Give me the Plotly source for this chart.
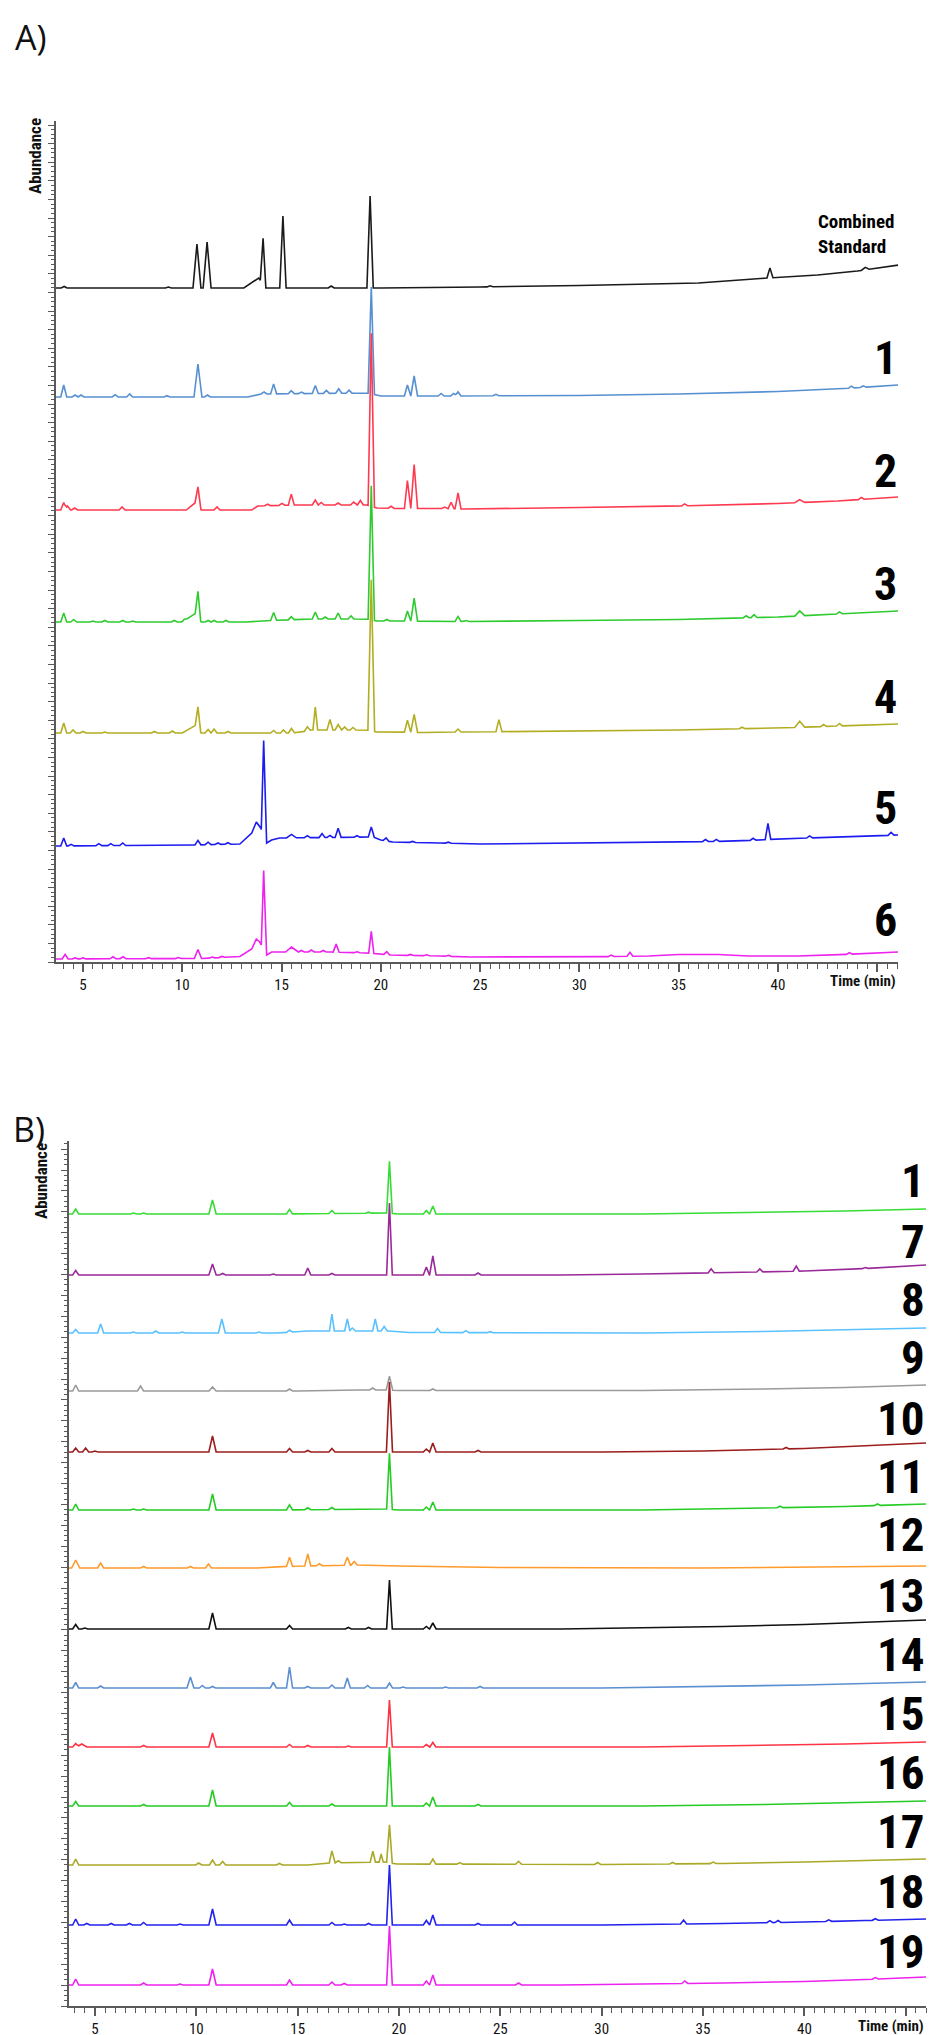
import numpy as np
import plotly.graph_objects as go

# ---------------- DATA (retention time in min, relative abundance) ----------------
W_DEFAULT = 0.15  # default half-width of a peak (min)

# Panel A
A_NAMES = ["Combined<br>Standard", "1", "2", "3", "4", "5", "6"]
A_OFFSETS = [674, 565, 452, 340, 229, 116, 3]

CS_PEAKS = [(4.05, 1.5), (9.3, 1), (10.74, 44, 0.2), (11.25, 46, 0.2), (14.07, 46, 0.14),
            (15.07, 72, 0.16), (17.5, 2), (19.46, 92, 0.16), (25.5, 1), (39.6, 10),
            (44.4, 2.5, 0.2)]
CS_BASE = [(3.6, 0), (13.1, 0), (13.85, 10), (14.2, 0), (20, 0), (25, 1), (30, 2.5), (33, 3.5),
           (36, 5), (39.5, 10), (42, 13), (44, 17), (46.1, 23)]

A1_PEAKS = [(4.03, 12), (4.6, 2), (4.9, 2), (6.62, 2.3), (7.35, 3), (9.23, 1.3), (10.79, 33, 0.2),
            (11.27, 2), (14.12, 2), (14.6, 10), (15.49, 3), (16.0, 1.5), (16.7, 8), (17.26, 3),
            (17.88, 4.5), (18.4, 3), (19.52, 107, 0.16), (21.34, 11), (21.68, 20, 0.17),
            (23.04, 2.5), (23.67, 2.5), (23.89, 4), (25.8, 1.5), (43.7, 2), (44.3, 1.5)]
A1_BASE = [(3.6, 0), (13.3, 0), (13.9, 3), (19.3, 4), (20.0, 1), (23, 1), (30, 1.5), (35, 3),
           (40, 5.5), (43, 8), (46.1, 12)]

A2_PEAKS = [(4.03, 7.5), (4.22, 4), (4.58, 2), (6.97, 3), (10.79, 18, 0.15), (11.75, 3), (14.3, 1.5),
            (15.02, 2), (15.49, 11), (16.7, 5), (17.0, 2.5), (17.85, 2), (18.63, 3), (18.97, 4.5),
            (19.52, 173, 0.16), (20.52, 2), (21.34, 28), (21.68, 44, 0.17), (23.22, 1.5),
            (23.54, 6.5), (23.89, 16), (35.3, 2), (41.1, 3, 0.25), (44.2, 2)]
A2_BASE = [(3.6, 0), (10.2, 0), (10.7, 8), (10.95, 0), (13.5, 0), (13.8, 4), (15.7, 5), (19.3, 5),
           (19.8, 2), (21, 1.5), (23, 1.5), (24.2, 1), (30, 2.5), (35, 4), (40, 6.5), (43, 9),
           (46.1, 13)]

A3_PEAKS = [(4.03, 9), (4.53, 2.5), (5.5, 1), (6.1, 1.5), (7.0, 1.5), (7.5, 1), (9.6, 1.5),
            (10.1, 1.5), (10.79, 25, 0.14), (11.3, 1.5), (11.6, 1.5), (12.2, 1.5), (14.6, 8),
            (15.49, 3), (16.7, 7), (17.2, 2), (17.85, 6), (18.5, 3), (19.52, 134, 0.16), (20.3, 1.5),
            (21.34, 10), (21.68, 23, 0.17), (23.89, 5), (24.3, 1), (38.4, 2), (38.8, 3),
            (41.1, 5, 0.25), (43.1, 2)]
A3_BASE = [(3.6, 0), (10.0, 0), (10.7, 9), (10.95, 0), (13.2, 0), (13.8, 1), (16.5, 3), (19.3, 3),
           (19.8, 1), (21, 1), (24.2, 0.5), (30, 1.5), (35, 2.5), (40, 5), (43, 8), (46.1, 11)]

A4_PEAKS = [(4.03, 10), (4.5, 3), (5.0, 1.5), (6.1, 1), (8.6, 1.5), (9.5, 2), (10.79, 21, 0.14),
            (11.3, 3.5), (11.6, 4), (12.3, 1.5), (14.6, 2.5), (15.1, 3), (15.5, 4.5), (16.3, 4),
            (16.7, 23, 0.12), (17.44, 10.5), (17.85, 5.5), (18.18, 3), (18.6, 2.5),
            (19.52, 151, 0.17), (21.34, 12), (21.68, 18, 0.17), (23.89, 3), (25.95, 12),
            (38.2, 1.5), (41.1, 6, 0.25), (42.3, 2), (43.1, 2.5)]
A4_BASE = [(3.6, 0), (10.0, 0), (10.7, 8), (10.95, 0), (15.5, 0), (16, 1), (16.5, 3), (19.3, 3),
           (19.8, 1), (21, 1), (22.2, 0.5), (24, 1), (30, 2), (35, 3), (40, 5), (46.1, 9)]

A5_PEAKS = [(4.03, 8), (4.4, 1.5), (5.8, 2), (6.4, 2), (7.0, 2.5), (10.79, 4.5), (11.3, 2.5),
            (11.8, 1.5), (12.3, 1.5), (14.1, 95, 0.12), (15.5, 3.5, 0.25), (16.3, 2), (17.04, 4),
            (17.44, 2), (17.85, 9), (18.8, 1.5), (19.52, 10), (20.27, 3), (21.6, 1), (23.4, 1),
            (36.35, 2), (36.9, 2), (38.75, 2), (39.5, 16, 0.14), (41.6, 2), (45.7, 3)]
A5_BASE = [(3.6, 0), (10.5, 1), (12.9, 2), (13.5, 13), (13.73, 24), (13.95, 18), (14.25, 3),
           (14.5, 6), (14.9, 8), (19.6, 9), (20.0, 6), (20.6, 4), (23, 3), (25, 2), (30, 3),
           (35, 4), (38, 5), (40, 7), (46.1, 11)]

A6_PEAKS = [(4.1, 4.5), (4.6, 1), (5.0, 1), (6.51, 2), (7.02, 2), (8.3, 1), (9.8, 1),
            (10.79, 9, 0.18), (11.5, 1), (12.0, 1), (14.1, 79, 0.12), (15.5, 5, 0.3), (16.0, 1.5),
            (16.5, 2), (17.1, 1.5), (17.75, 8), (18.8, 1), (19.52, 22, 0.13), (20.3, 3), (21.5, 1),
            (22.3, 1), (23.4, 1), (31.6, 1.5), (32.55, 4), (43.6, 1.5)]
A6_BASE = [(3.6, 0), (11.0, 0.5), (12.9, 2.5), (13.5, 10), (13.73, 20), (13.9, 17), (14.25, 4),
           (14.5, 7), (17.5, 7), (19.3, 6), (20.5, 4), (23, 3), (24.5, 2), (30, 2), (33.5, 3),
           (35, 4.5), (37, 4.5), (38.5, 3), (41, 3), (44, 5), (46.1, 7)]

A_PEAKS = [CS_PEAKS, A1_PEAKS, A2_PEAKS, A3_PEAKS, A4_PEAKS, A5_PEAKS, A6_PEAKS]
A_BASES = [CS_BASE, A1_BASE, A2_BASE, A3_BASE, A4_BASE, A5_BASE, A6_BASE]

# Panel B
B_NAMES = ["1", "7", "8", "9", "10", "11", "12", "13", "14", "15", "16", "17", "18", "19"]
B_OFFSETS = [792, 731, 673, 615, 554, 496, 438, 377, 318, 259, 200, 141, 81, 21]

B1_PEAKS = [(4.05, 5), (6.9, 1), (7.4, 1), (10.8, 14, 0.18), (14.6, 4.5), (16.69, 3), (18.5, 1),
            (19.53, 52, 0.14), (21.35, 3.5), (21.67, 8, 0.16)]
B1_BASE = [(3.7, 0), (14, 0), (19.4, 1), (20, 0), (32, 0), (38, 1.5), (42, 3), (46, 5)]
B7_PEAKS = [(4.05, 4.5), (10.8, 11, 0.18), (11.3, 1.5), (13.8, 1), (15.5, 7), (16.69, 1.5),
            (19.53, 72, 0.14), (21.35, 8), (21.67, 19, 0.16), (23.9, 2), (35.4, 4), (37.8, 3),
            (39.6, 5), (43.0, 1)]
B7_BASE = [(3.7, 0), (28, 0), (32, 1), (35, 2), (40, 4), (43, 6.5), (46, 10)]
B8_PEAKS = [(4.05, 3.5), (5.28, 9), (6.9, 1), (8.0, 2), (9.3, 1), (11.26, 14, 0.17), (13.1, 1),
            (14.6, 2), (16.69, 17, 0.12), (17.45, 12, 0.13), (17.7, 3), (18.83, 12, 0.13),
            (19.27, 4.5), (21.9, 4), (23.3, 2), (24.5, 1)]
B8_BASE = [(3.7, 0), (14, 0), (15.5, 2), (19.5, 2), (20.5, 0.5), (32, 0), (38, 1.5), (42, 3),
           (46, 5)]
B9_PEAKS = [(4.05, 6), (7.25, 5), (10.8, 4, 0.18), (14.6, 2), (18.7, 2), (19.53, 14, 0.16),
            (21.67, 1.5)]
B9_BASE = [(3.7, 0), (15, 0), (18, 1), (19.4, 1), (20, 0.5), (32, 0.5), (38, 2), (42, 3.5),
           (46, 6)]
B10_PEAKS = [(4.05, 4), (4.54, 4), (5.0, 1), (10.8, 16, 0.18), (14.6, 3.5), (15.5, 1.5),
             (16.69, 3.5), (19.53, 70, 0.15), (21.35, 3), (21.67, 9, 0.16), (23.9, 1.5), (39.1, 1.5)]
B10_BASE = [(3.7, 0), (30, 0), (35, 1), (40, 3.5), (43, 6), (46, 9)]
B11_PEAKS = [(4.05, 6), (6.9, 1), (7.4, 1), (10.8, 16, 0.18), (14.6, 5), (15.5, 2), (16.69, 2),
             (19.53, 56, 0.14), (21.35, 3), (21.67, 8, 0.16), (38.8, 1.5), (43.6, 1.5)]
B11_BASE = [(3.7, 0), (14, 0), (19.4, 1), (20, 0), (32, 0), (38, 2), (42, 3.5), (46, 6)]
B12_PEAKS = [(4.05, 8, 0.2), (5.28, 5), (7.4, 1.5), (9.71, 1.5), (10.6, 4), (14.6, 9), (15.5, 12),
             (16.07, 2), (17.45, 8), (17.79, 3.5)]
B12_BASE = [(3.7, 0), (13, 0), (14.2, 1.5), (17.9, 3), (20, 2), (25, 0.5), (35, 0), (40, 1),
            (46, 2)]
B13_PEAKS = [(4.05, 4.5), (4.5, 1), (10.8, 16, 0.18), (14.6, 3.5), (17.5, 1.5), (18.5, 1.5),
             (19.53, 49, 0.14), (21.35, 2.5), (21.67, 6, 0.16)]
B13_BASE = [(3.7, 0), (28, 0), (32, 1), (36, 2.5), (40, 4.5), (43, 6.5), (46, 9)]
B14_PEAKS = [(4.05, 5.5), (5.28, 2), (9.71, 11, 0.17), (10.3, 2.5), (10.8, 1.5), (13.8, 5.5),
             (14.6, 21, 0.15), (15.5, 1.5), (16.69, 3), (17.45, 10), (18.45, 2.5), (19.53, 5),
             (20.2, 1), (22.3, 1), (24.0, 1.5)]
B14_BASE = [(3.7, 0), (30, 0), (36, 1.5), (40, 3), (43, 4.5), (46, 6)]
B15_PEAKS = [(4.05, 3.5), (4.35, 3, 0.25), (7.4, 1.5), (10.8, 14, 0.18), (14.6, 2.5), (15.5, 1.5),
             (17.5, 1), (19.53, 47, 0.14), (21.35, 2.5), (21.67, 4.5)]
B15_BASE = [(3.7, 0), (32, 0), (38, 1.5), (42, 3), (46, 5)]
B16_PEAKS = [(4.05, 4.5), (7.4, 1.5), (10.8, 16, 0.18), (14.6, 3.5), (16.69, 2), (19.53, 59, 0.14),
             (21.35, 3), (21.67, 9, 0.16), (23.9, 1.5)]
B16_BASE = [(3.7, 0), (32, 0), (38, 1.5), (42, 3), (46, 5)]
B17_PEAKS = [(4.05, 6), (10.12, 2), (10.8, 5), (11.3, 3.5), (14.1, 1.5), (16.69, 12, 0.13),
             (17.0, 2), (18.71, 11, 0.13), (19.12, 8, 0.1), (19.53, 38, 0.14), (21.67, 5),
             (23.0, 1.5), (25.9, 3), (29.8, 2), (33.5, 1.5), (35.5, 1.5)]
B17_BASE = [(3.7, 0), (15.5, 0), (16.4, 2), (19.3, 3), (19.9, 1), (30, 0.5), (36, 1.5), (40, 3),
            (43, 4.5), (46, 6)]
B18_PEAKS = [(4.05, 6), (4.6, 1.5), (5.8, 1.5), (6.7, 1.5), (7.4, 2.5), (9.2, 1), (10.8, 16, 0.18),
             (14.6, 5), (16.69, 2.5), (17.3, 1), (18.5, 1.5), (19.53, 60, 0.14), (21.35, 4.5),
             (21.67, 10, 0.16), (23.9, 1.5), (25.7, 3), (34.04, 4), (38.3, 2), (38.7, 2),
             (41.2, 1.5), (43.5, 1.5)]
B18_BASE = [(3.7, 0), (30, 0), (36, 1.5), (40, 3), (43, 4.5), (46, 6)]
B19_PEAKS = [(4.05, 6), (7.4, 2), (9.2, 1), (10.8, 16, 0.18), (14.6, 5), (16.69, 3), (17.3, 1.5),
             (19.53, 59, 0.14), (21.35, 4), (21.67, 10, 0.16), (25.9, 2), (34.1, 2.5), (43.5, 1.5)]
B19_BASE = [(3.7, 0), (28, 0), (32, 1), (36, 2), (40, 3.5), (43, 5.5), (46, 8)]

B_PEAKS = [B1_PEAKS, B7_PEAKS, B8_PEAKS, B9_PEAKS, B10_PEAKS, B11_PEAKS, B12_PEAKS, B13_PEAKS,
           B14_PEAKS, B15_PEAKS, B16_PEAKS, B17_PEAKS, B18_PEAKS, B19_PEAKS]
B_BASES = [B1_BASE, B7_BASE, B8_BASE, B9_BASE, B10_BASE, B11_BASE, B12_BASE, B13_BASE,
           B14_BASE, B15_BASE, B16_BASE, B17_BASE, B18_BASE, B19_BASE]

X_TICKS = [5, 10, 15, 20, 25, 30, 35, 40, 45]
X_TICKTEXT = ["5", "10", "15", "20", "25", "30", "35", "40", ""]

# ---------------- STYLE ----------------
A_COLORS = ["#1a1a1a", "#5690d2", "#ff3a50", "#2ecb2e", "#b3ad22", "#1c1cf0", "#ee22ee"]
B_COLORS = ["#35dd35", "#9a2a9a", "#59c1ff", "#9a9a9a", "#9c1d1d", "#25cc25", "#ff9a2c",
            "#111111", "#5b8fd0", "#ff3344", "#25cc25", "#aaa827", "#2222ee", "#ee22ee"]
NARROW = "Liberation Sans Narrow, Arial Narrow, Roboto Condensed, Liberation Sans, Arial, sans-serif"
W, H = 936, 2035


def trace_xy(peaks, base, offset):
    bt = [b[0] for b in base]
    bv = [b[1] for b in base]
    knots = set(bt)
    plist = []
    for pk in peaks:
        rt, h = pk[0], pk[1]
        w = pk[2] if len(pk) > 2 else W_DEFAULT
        plist.append((rt, h, w))
        knots.update([rt - w, rt, rt + w])
    t = np.array(sorted(k for k in knots if bt[0] <= k <= bt[-1]))
    y = np.interp(t, bt, bv)
    for rt, h, w in plist:
        y = y + np.clip(h * (1 - np.abs(t - rt) / w), 0, None)
    return t, y + offset


fig = go.Figure()
for peaks, base, off, col in zip(A_PEAKS, A_BASES, A_OFFSETS, A_COLORS):
    t, y = trace_xy(peaks, base, off)
    fig.add_trace(go.Scatter(x=t, y=y, mode="lines", line=dict(color=col, width=1.6),
                             xaxis="x", yaxis="y", showlegend=False, hoverinfo="skip"))
for peaks, base, off, col in zip(B_PEAKS, B_BASES, B_OFFSETS, B_COLORS):
    t, y = trace_xy(peaks, base, off)
    fig.add_trace(go.Scatter(x=t, y=y, mode="lines", line=dict(color=col, width=1.6),
                             xaxis="x2", yaxis="y2", showlegend=False, hoverinfo="skip"))


def px_y(p):
    return 1 - p / H


AX = "#5a5a5a"
xcommon = dict(showline=True, linecolor=AX, linewidth=1.5, ticks="outside", ticklen=8,
               tickwidth=1.5, tickcolor=AX, tickmode="array", tickvals=X_TICKS,
               ticktext=X_TICKTEXT, showgrid=False, zeroline=False,
               tickfont=dict(family=NARROW, size=15, color="#111"),
               minor=dict(tickmode="linear", tick0=0, dtick=0.5, ticklen=5, tickcolor=AX,
                          tickwidth=1.2, showgrid=False))


def ycommon(rng, d):
    return dict(range=rng, showline=True, linecolor=AX, linewidth=1.5, ticks="outside",
                ticklen=6, tickwidth=1.2, tickcolor=AX, tickmode="linear", tick0=0, dtick=d,
                showticklabels=False, showgrid=False, zeroline=False,
                minor=dict(tickmode="linear", tick0=0, dtick=d / 4, ticklen=3, tickcolor=AX,
                           tickwidth=1, showgrid=False))


fig.update_layout(
    width=W, height=H, margin=dict(l=0, r=0, t=0, b=0),
    paper_bgcolor="white", plot_bgcolor="white",
    xaxis=dict(domain=[48 / W, 890 / W], range=[3.64, 46.05], anchor="y", **xcommon),
    yaxis=dict(domain=[px_y(954), px_y(113)], anchor="x", **ycommon([0, 841], 18.6)),
    xaxis2=dict(domain=[61 / W, 918 / W], range=[3.72, 46.0], anchor="y2", **xcommon),
    yaxis2=dict(domain=[px_y(1998), px_y(1133)], anchor="x2", **ycommon([0, 865], 20.9)),
)

ann = []
# panel letters
ann.append(dict(text="A)", x=5 / W, y=px_y(29), xref="paper", yref="paper", xanchor="left",
                yanchor="middle", showarrow=False,
                font=dict(family="Open Sans, Lato, sans-serif", size=34, color="#111")))
ann.append(dict(text="B)", x=3 / W, y=px_y(1121), xref="paper", yref="paper", xanchor="left",
                yanchor="middle", showarrow=False,
                font=dict(family="Open Sans, Lato, sans-serif", size=34, color="#111")))
# Abundance
for xa, ya in [(27, 148), (33, 1173)]:
    ann.append(dict(text="<b>Abundance</b>", x=xa / W, y=px_y(ya), xref="paper", yref="paper",
                    textangle=-90, showarrow=False, xanchor="center", yanchor="middle",
                    font=dict(family=NARROW, size=17, color="#111")))
# Time (min)
for xr, ya in [(890, 973), (918, 2018)]:
    ann.append(dict(text="<b>Time (min)</b>", x=xr / W, y=px_y(ya), xref="paper", yref="paper",
                    showarrow=False, xanchor="right", yanchor="middle",
                    font=dict(family=NARROW, size=15, color="#111")))
# sample labels panel A
A_LABEL_Y = [226, 350, 463, 576, 689, 800, 912]
for name, ly in zip(A_NAMES, A_LABEL_Y):
    big = name != "Combined<br>Standard"
    ann.append(dict(text="<b>" + name + "</b>", x=(891 if big else 888) / W, y=px_y(ly),
                    xref="paper", yref="paper", showarrow=False, xanchor="right",
                    yanchor="middle", align="left",
                    font=dict(family=NARROW, size=46 if big else 19, color="#000")))
# sample labels panel B
for name, off in zip(B_NAMES, B_OFFSETS):
    ly = 1998 - off - 34
    ann.append(dict(text="<b>" + name + "</b>", x=919 / W, y=px_y(ly), xref="paper",
                    yref="paper", showarrow=False, xanchor="right", yanchor="middle",
                    font=dict(family=NARROW, size=47, color="#000")))
fig.update_layout(annotations=ann)

fig.write_html("out.html")
